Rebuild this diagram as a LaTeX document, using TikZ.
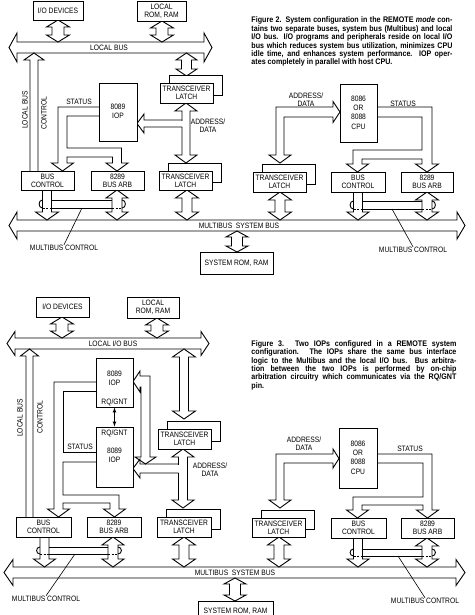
\documentclass[tikz,border=0pt]{standalone}
\usepackage{fontspec}
\setmainfont{Liberation Sans}[FakeStretch=0.86]
\newfontfamily\capf{Liberation Sans}[FakeStretch=0.88]
\usetikzlibrary{calc}
\newcommand\lab{\fontsize{7.8}{8.2}\selectfont}
\newcommand\labw{\fontsize{7.8}{9.3}\selectfont}
\newcommand\capt{\capf\bfseries\fontsize{8.1}{8.4}\selectfont}
% vertical double fat arrow: x, ytop, ybot, shaft half, head half, head length
\newcommand\VD[6]{\draw[fat] ({#1-#4},{#2+#6}) -- ({#1-#5},{#2+#6}) -- (#1,#2) -- ({#1+#5},{#2+#6}) -- ({#1+#4},{#2+#6}) -- ({#1+#4},{#3-#6}) -- ({#1+#5},{#3-#6}) -- (#1,#3) -- ({#1-#5},{#3-#6}) -- ({#1-#4},{#3-#6}) -- cycle;}
% horizontal double fat arrow: y, xleft, xright, shaft half, head half, head length
\newcommand\HD[6]{\draw[fat] ({#2+#6},{#1-#4}) -- ({#2+#6},{#1-#5}) -- (#2,#1) -- ({#2+#6},{#1+#5}) -- ({#2+#6},{#1+#4}) -- ({#3-#6},{#1+#4}) -- ({#3-#6},{#1+#5}) -- (#3,#1) -- ({#3-#6},{#1-#5}) -- ({#3-#6},{#1-#4}) -- cycle;}
% vertical single fat arrow: x, yfrom, ytip, shaft half, head half, signed head length
\newcommand\VS[6]{\draw[fat] ({#1-#4},#2) -- ({#1-#4},{#3-#6}) -- ({#1-#5},{#3-#6}) -- (#1,#3) -- ({#1+#5},{#3-#6}) -- ({#1+#4},{#3-#6}) -- ({#1+#4},#2);}
% box by corners
\newcommand\bx[6]{\node[box, minimum width={(#4-#2)*1pt}, minimum height={(#5-#3)*1pt}] (#1) at ({(#2+#4)/2},{(#3+#5)/2}) {#6};}
\newcommand\latch[5]{\draw[fill=white] ({#2+9},{#3-8}) rectangle ({#4+9},{#5-8});
  \node[box, minimum width={(#4-#2)*1pt}, minimum height={(#5-#3)*1pt}] (#1) at ({(#2+#4)/2},{(#3+#5)/2}) {TRANSCEIVER\\LATCH};}
\begin{document}
\begin{tikzpicture}[x=1pt,y=-1pt,line width=0.9pt,
  box/.style={draw, fill=white, inner sep=0pt, align=center, font=\lab},
  fat/.style={draw, fill=white, line join=miter},
  lbl/.style={inner sep=0pt, align=center, font=\lab},
  lblw/.style={inner sep=0pt, align=center, font=\labw},
  dsh/.style={dashed, dash pattern=on 2pt off 1.5pt, line width=0.6pt}]
\useasboundingbox (0,0) rectangle (474,615);
\clip (0,0) rectangle (474,615);

%================ FIGURE 2 ================
\node[anchor=north west, inner sep=0pt, align=left, font=\capt] (cap2) at (251,16.5) {%
\makebox[201pt][s]{Figure 2. System configuration in the REMOTE \textit{mode} con-}\\
\makebox[201pt][s]{tains two separate buses, system bus (Multibus) and local}\\
\makebox[201pt][s]{I/O bus. I/O programs and peripherals reside on local I/O}\\
\makebox[201pt][s]{bus which reduces system bus utilization, minimizes CPU}\\
\makebox[201pt][s]{idle time, and enhances system performance. IOP oper-}\\
ates completely in parallel with host CPU.};

% local bus
\HD{47.5}{9}{212}{5.5}{14.5}{8}
\node[lbl] (lb2) at (109,48) {LOCAL BUS};
% multibus
\HD{225.5}{9}{465}{5.5}{13.5}{8}
\node[lbl] (mb2) at (239,226) {MULTIBUS\ \ SYSTEM BUS};

\VD{58}{20}{42}{6}{11.5}{7}
\VD{162}{21}{42}{6}{11.5}{7}
\VD{186.5}{53}{76}{5}{10.5}{7}
\VD{186}{103}{163}{4}{11}{8}
\VD{187}{190}{220}{5}{11.5}{8}
\VD{117}{190}{220}{5}{11}{8}
\VD{280}{192}{220}{5}{11.5}{8}
\VD{427}{192}{220}{5}{11.5}{8}
\VD{237}{231}{252}{5.5}{11}{6}
\VS{47}{190}{220}{4.5}{11.5}{8}
\VS{358}{192}{220}{4.5}{11}{8}
\VS{34}{171}{53}{4}{10}{-7}

\node[lblw, rotate=90] (lbv2) at (25,110) {LOCAL BUS};
\node[lblw, rotate=90] (ctl2) at (44,113) {CONTROL};

% status (left)
\draw (99,107) -- (58,107) -- (58,163) -- (51.5,163) -- (62.5,171) -- (73.5,163) -- (67,163) -- (67,157) -- (112.5,157) -- (112.5,163) -- (106,163) -- (117,171) -- (128,163) -- (121.5,163) -- (121.5,148) -- (67,148) -- (67,116) -- (99,116);
\node[lbl] (st2) at (79,102) {STATUS};
% address/data (left)
\fill[white] (143,120.5) rectangle (182.5,126.5);
\draw[line join=miter] (182,120) -- (144,120) -- (144,114) -- (137,123.5) -- (144,133) -- (144,127) -- (182,127);
\node[lbl] (ad2) at (208,126) {ADDRESS/\\DATA};

% boxes
\bx{io2}{33}{1}{83}{20}{I/O DEVICES}
\bx{rom2}{137}{1}{186}{21}{LOCAL\\ROM, RAM}
\bx{iop2}{99}{83}{137}{141}{}
\node[lblw] at (118,111) {8089\\IOP};
\latch{tl2a}{160}{83}{213}{103}
\latch{tl2b}{159}{171}{212}{190}
\bx{bc2}{21}{171}{74}{190}{BUS\\CONTROL}
\bx{ba2}{91}{171}{144}{190}{8289\\BUS ARB}
\bx{cpu2}{340}{84}{377}{142}{}
\node[lblw] at (358.5,112.5) {8086\\OR\\8088\\CPU};
\latch{tl2c}{253}{172}{306}{192}
\bx{bc2r}{331}{172}{385}{192}{BUS\\CONTROL}
\bx{ba2r}{401}{172}{453}{192}{8289\\BUS ARB}
\bx{sys2}{200}{252}{273}{274}{SYSTEM ROM, RAM}

% right side address/data
\draw[fat] (333,107) -- (333,101.5) -- (340,112) -- (333,122.5) -- (333,117) -- (284,117) -- (284,155) -- (291,155) -- (280,163) -- (269,155) -- (276,155) -- (276,107) -- cycle;
\node[lbl] (ad2r) at (306,100) {ADDRESS/\\DATA};
% right side status
\draw (377,107) -- (432,107) -- (432,164) -- (438.5,164) -- (427,172) -- (415.5,164) -- (422,164) -- (422,159) -- (362,159) -- (362,164) -- (368.5,164) -- (357.5,172) -- (346.5,164) -- (353,164) -- (353,150) -- (422,150) -- (422,117) -- (377,117);
\node[lbl] (st2r) at (403,104) {STATUS};

% multibus control bands
\draw (51.5,200) -- (112,200) (51.5,208) -- (112,208);
\draw[dsh] (42.5,208) -- (51.5,208) (112,208) -- (122,208);
\draw (42.5,200) .. controls (38,200) and (38,208) .. (42.5,208);
\draw (122,200) .. controls (126.5,200) and (126.5,208) .. (122,208);
\coordinate (mc2a) at (82,208);
\node[lbl] (mc2) at (64,248) {MULTIBUS CONTROL};
\draw[line width=0.6pt] (mc2a) -- (mc2.north);
\draw (362.5,201) -- (422,201) (362.5,209) -- (422,209);
\draw[dsh] (353.5,209) -- (362.5,209) (422,209) -- (432,209);
\draw (353.5,201) .. controls (349,201) and (349,209) .. (353.5,209);
\draw (432,201) .. controls (436.5,201) and (436.5,209) .. (432,209);
\coordinate (mc2b) at (392,209);
\node[lbl] (mc2r) at (413,250) {MULTIBUS CONTROL};
\draw[line width=0.6pt] (mc2b) -- (mc2r.north);

%================ FIGURE 3 ================
\node[anchor=north west, inner sep=0pt, align=left, font=\capt] (cap3) at (251,340) {%
\makebox[205pt][s]{Figure 3. Two IOPs configured in a REMOTE system}\\
\makebox[205pt][s]{configuration. The IOPs share the same bus interface}\\
\makebox[205pt][s]{logic to the Multibus and the local I/O bus. Bus arbitra-}\\
\makebox[205pt][s]{tion between the two IOPs is performed by on-chip}\\
\makebox[205pt][s]{arbitration circuitry which communicates via the RQ/GNT}\\
pin.};

\HD{343.5}{7}{209}{5.5}{12}{8}
\node[lbl] (lb3) at (113,344) {LOCAL I/O BUS};
\HD{572.5}{4}{465}{5.5}{13}{9}
\node[lbl] (mb3) at (235,573) {MULTIBUS\ \ SYSTEM BUS};

\VD{62}{317}{338}{6}{11.5}{7}
\VD{157}{318}{338}{6}{11.5}{7}
\VD{184}{349}{419}{4.5}{11.5}{8}
\VD{183}{449}{508}{4.5}{11}{8}
\VD{184}{537}{567}{5}{11.5}{8}
\VD{113}{537}{567}{5}{11}{8}
\VD{279}{537}{567}{5}{11.5}{8}
\VD{427}{538}{567}{5}{11.5}{8}
\VD{235}{578}{601}{5.5}{11}{6}
\VS{44.5}{537}{567}{4.5}{11}{8}
\VS{358}{538}{567}{4.5}{11}{8}
\VS{29.5}{517}{349}{3.5}{9}{-7}

\node[lblw, rotate=90] (lbv3) at (20,418) {LOCAL BUS};
\node[lblw, rotate=90] (ctl3) at (40,417) {CONTROL};

% status (left)
\draw (96,382) -- (54,382) -- (54,509) -- (47.5,509) -- (58.5,517) -- (69.5,509) -- (63,509) -- (63,503) -- (110,503) -- (110,509) -- (103.5,509) -- (114.5,517) -- (125.5,509) -- (119,509) -- (119,495) -- (63,495) -- (63,462) -- (96,462);
\draw (96,452) -- (63,452) -- (63,391) -- (96,391);
\node[lbl] (st3) at (80,447) {STATUS};

% address/data from upper IOP
\draw[fat] (150,457) -- (150,376) -- (140,376) -- (140,371) -- (133,381.5) -- (140,392) -- (140,387) -- (141,387) -- (141,457) -- (135,457) -- (145.5,464) -- (156,457) -- cycle;
% address/data lower IOP
\fill[white] (139,464.5) rectangle (178.5,472.5);
\draw[line join=miter] (178.5,464) -- (140,464) -- (140,459) -- (133,468.5) -- (140,478) -- (140,473) -- (178.5,473);
\node[lbl] (ad3) at (210,470) {ADDRESS/\\DATA};

% boxes
\bx{io3}{36}{297}{89}{317}{I/O DEVICES}
\bx{rom3}{127}{297}{179}{318}{LOCAL\\ROM, RAM}
\bx{iop3a}{96}{358}{133}{407}{}
\node[lblw] at (114.5,378) {8089\\IOP};
\node[lbl] at (114.5,402) {RQ/GNT};
\bx{iop3b}{96}{427}{133}{487}{}
\node[lbl] at (114.5,433) {RQ/GNT};
\node[lblw] at (114.5,455) {8089\\IOP};
\draw[<->, >=latex, line width=0.7pt] (iop3a.south) -- (iop3b.north);
\latch{tl3a}{158}{429}{211}{449}
\latch{tl3b}{157}{517}{211}{537}
\bx{bc3}{16}{517}{71}{537}{BUS\\CONTROL}
\bx{ba3}{87}{517}{141}{537}{8289\\BUS ARB}
\bx{cpu3}{339}{428}{377}{488}{}
\node[lblw] at (358,457.5) {8086\\OR\\8088\\CPU};
\latch{tl3c}{252}{518}{305}{537}
\bx{bc3r}{331}{518}{386}{538}{BUS\\CONTROL}
\bx{ba3r}{401}{518}{454}{538}{8289\\BUS ARB}
\bx{sys3}{198}{601}{273}{622}{SYSTEM ROM, RAM}

% right side
\draw[fat] (333,454) -- (276,454) -- (276,500) -- (269,500) -- (280,508) -- (291,500) -- (284,500) -- (284,463) -- (333,463) -- (333,468) -- (339,458.5) -- (333,449) -- cycle;
\node[lbl] (ad3r) at (304,444) {ADDRESS/\\DATA};
\draw (377,454) -- (432,454) -- (432,510) -- (438.5,510) -- (427.5,518) -- (416.5,510) -- (423,510) -- (423,505) -- (362,505) -- (362,510) -- (368.5,510) -- (357.5,518) -- (346.5,510) -- (353,510) -- (353,497) -- (423,497) -- (423,463) -- (377,463);
\node[lbl] (st3r) at (410,449) {STATUS};

% bands
\draw (49,547) -- (108,547) (49,554) -- (108,554);
\draw[dsh] (40,554) -- (49,554) (108,554) -- (118,554);
\draw (40,547) .. controls (35.5,547) and (35.5,554) .. (40,554);
\draw (118,547) .. controls (122.5,547) and (122.5,554) .. (118,554);
\coordinate (mc3a) at (75,554);
\node[lbl] (mc3) at (46,599) {MULTIBUS CONTROL};
\draw[line width=0.6pt] (mc3a) -- (mc3.north);
\draw (362.5,549) -- (422,549) (362.5,556) -- (422,556);
\draw[dsh] (353.5,556) -- (362.5,556) (422,556) -- (432,556);
\draw (353.5,549) .. controls (349,549) and (349,556) .. (353.5,556);
\draw (432,549) .. controls (436.5,549) and (436.5,556) .. (432,556);
\coordinate (mc3b) at (398,556);
\node[lbl] (mc3r) at (425,601) {MULTIBUS CONTROL};
\draw[line width=0.6pt] (mc3b) -- (mc3r.north);
\end{tikzpicture}
\end{document}
